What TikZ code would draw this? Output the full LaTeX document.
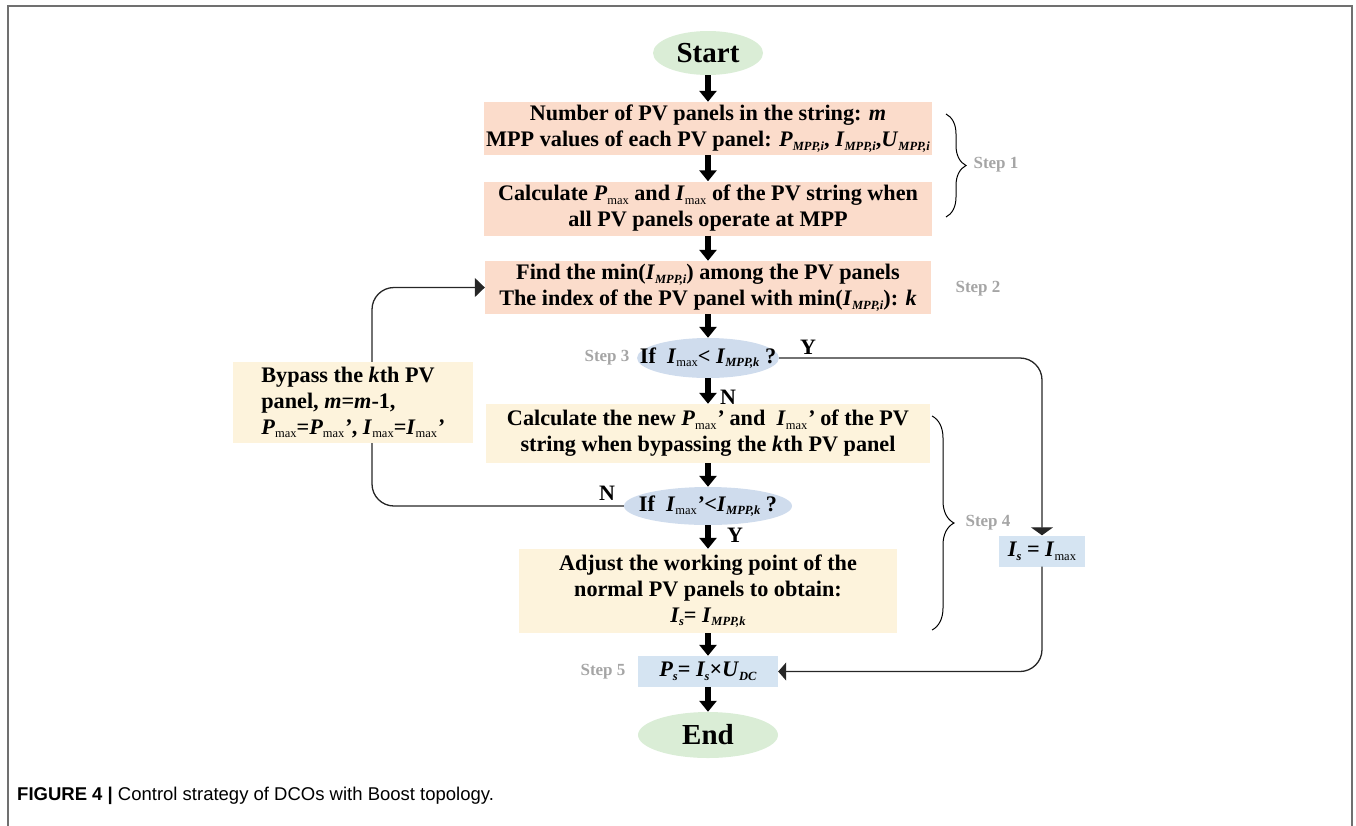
\documentclass[tikz,border=0pt]{standalone}
\usepackage{fontspec}
\setmainfont{Liberation Serif}
\newfontfamily\capfont{Liberation Sans}
\usetikzlibrary{arrows.meta,shapes.geometric,decorations.pathreplacing}
\definecolor{peach}{HTML}{FBDCCB}
\definecolor{cream}{HTML}{FDF3DC}
\definecolor{lblue}{HTML}{D5E4F2}
\definecolor{eblue}{HTML}{CFDCED}
\definecolor{lgreen}{HTML}{DAEDD6}
\definecolor{stepgray}{HTML}{A5A5A5}
\definecolor{framegray}{HTML}{707070}
\newcommand{\isb}[1]{\raisebox{-0.35ex}{\fontsize{12.5}{12.5}\selectfont\textit{#1}}}
\newcommand{\mx}{\raisebox{-0.35ex}{\fontsize{12.5}{12.5}\selectfont\textnormal{max}}}
\tikzset{
  txt/.style={font=\fontsize{22.2}{26}\selectfont\bfseries, align=center, inner sep=0pt},
  obox/.style={txt, rectangle, fill=peach},
  ybox/.style={txt, rectangle, fill=cream},
  bbox/.style={txt, rectangle, fill=lblue},
  dec/.style={ellipse, fill=eblue, inner sep=0pt},
  term/.style={ellipse, fill=lgreen, inner sep=0pt, font=\fontsize{29}{32}\selectfont\bfseries},
  steplbl/.style={font=\fontsize{17}{19}\selectfont\bfseries, text=stepgray, inner sep=0pt},
  yn/.style={font=\fontsize{22}{24}\selectfont\bfseries, inner sep=0pt},
  fatarrow/.style={-{Triangle[width=17pt,length=11pt]}, line width=5.5pt},
  conn/.style={line width=1.3pt, draw=black!85, rounded corners=22pt},
  bracestyle/.style={decorate, line width=1pt},
}
\begin{document}
\begin{tikzpicture}[x=1pt,y=-1pt]
\useasboundingbox (0,0) rectangle (1356,825);
\draw[framegray, line width=2pt] (8,830) -- (8,6) -- (1352,6) -- (1352,830);

\node[term, minimum width=110pt, minimum height=44pt] (start) at (708,53) {Start};
\node[obox, minimum width=448pt, minimum height=53pt] (b1) at (708,128.5)
  {Number of PV panels in the string: \textit{m}\\
   MPP values of each PV panel: \textit{P}\isb{MPP,i}, \textit{I}\isb{MPP,i},\textit{U}\isb{MPP,i}};
\node[obox, minimum width=448pt, minimum height=54pt] (b2) at (708,208.5)
  {Calculate \textit{P}\mx{} and \textit{I}\mx{} of the PV string when\\
   all PV panels operate at MPP};
\node[obox, minimum width=446pt, minimum height=53pt] (b3) at (708,287.5)
  {Find the min(\textit{I}\isb{MPP,i}) among the PV panels\\
   The index of the PV panel with min(\textit{I}\isb{MPP,i}): \textit{k}};
\node[dec, minimum width=142pt, minimum height=40pt] (e1) at (708,358) {};
\node[txt] (e1t) at (e1) {If\ \ \textit{I}\mx< \textit{I}\isb{MPP,k} ?};
\node[ybox, minimum width=444pt, minimum height=59pt] (b4) at (708,433.5)
  {Calculate the new \textit{P}\mx\textit{'} and\ \ \textit{I}\mx\textit{'} of the PV\\
   string when bypassing the \textit{k}th PV panel};
\node[dec, minimum width=168pt, minimum height=38pt] (e2) at (708,506) {};
\node[txt] (e2t) at (e2) {If\ \ \textit{I}\mx\textit{'}<\textit{I}\isb{MPP,k} ?};
\node[ybox, minimum width=378pt, minimum height=84pt] (b5) at (708,591)
  {Adjust the working point of the\\
   normal PV panels to obtain:\\
   \textit{I\isb{s}}= \textit{I}\isb{MPP,k}};
\node[bbox, minimum width=140pt, minimum height=31pt] (b6) at (708,671.5)
  {\textit{P\isb{s}}= \textit{I\isb{s}}×\textit{U}\isb{DC}};
\node[term, minimum width=140pt, minimum height=46pt] (end) at (708,735) {End};

\node[ybox, align=left, minimum width=240pt, minimum height=81pt] (lb) at (353,402.5)
  {Bypass the \textit{k}th PV\\
   panel, \textit{m}=\textit{m}-1,\\
   \textit{P}\mx=\textit{P}\mx\textit{'}, \textit{I}\mx=\textit{I}\mx\textit{'}};
\node[bbox, minimum width=86pt, minimum height=31pt] (is) at (1042,551)
  {\textit{I\isb{s}} = \textit{I}\mx};

% thick arrows
\draw[fatarrow] (start) -- (b1);
\draw[fatarrow] (b1) -- (b2);
\draw[fatarrow] (b2) -- (b3);
\draw[fatarrow] (b3) -- (e1);
\draw[fatarrow] (e1) -- (b4);
\draw[fatarrow] (b4) -- (e2);
\draw[fatarrow] (e2) -- (b5);
\draw[fatarrow] (b5) -- (b6);
\draw[fatarrow] (b6) -- (end);

% loop connectors
\draw[conn] (e2.west) -| ([xshift=19pt]lb.south);
\draw[conn, -{Triangle[width=19pt,length=10pt]}] ([xshift=19pt]lb.north) |- (b3.west);
\draw[conn, -{Triangle[width=22pt,length=8pt]}] (e1.east) -| (is.north);
\draw[conn, -{Triangle[width=18pt,length=8pt]}] (is.south) |- (b6.east);

% Y/N labels
\node[yn] (y1) at (808,347) {Y};
\node[yn] (n1) at (728,397) {N};
\node[yn] (n2) at (607,493) {N};
\node[yn] (y2) at (735,535) {Y};

% step labels
\node[steplbl] (s1) at (996,165) {Step 1};
\node[steplbl] (s2) at (978,289) {Step 2};
\node[steplbl] (s3) at (607,358) {Step 3};
\node[steplbl] (s4) at (988,523) {Step 4};
\node[steplbl] (s5) at (603,672) {Step 5};

% braces
\draw[bracestyle, decoration={brace, amplitude=20pt}] (946,114) -- (946,217);
\draw[bracestyle, decoration={brace, amplitude=22pt}] (932,416) -- (932,630);

% caption
\node[anchor=base west, inner sep=0pt, font=\capfont\fontsize{18.5}{21}\selectfont] (cap) at (17,800)
  {\textbf{FIGURE 4 |} Control strategy of DCOs with Boost topology.};
\end{tikzpicture}
\end{document}
